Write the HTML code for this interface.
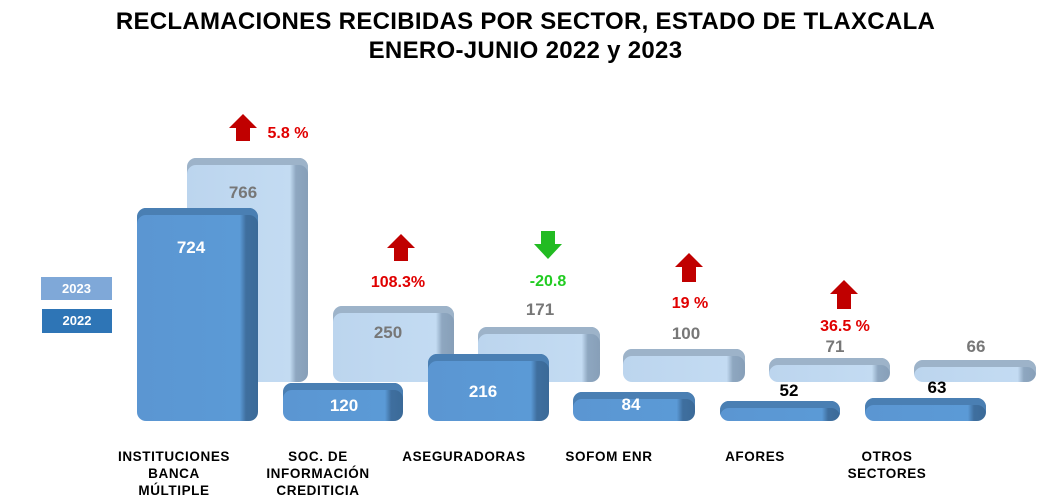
<!DOCTYPE html><html><head><style>
body{margin:0;width:1041px;height:503px;background:#fff;position:relative;overflow:hidden;font-family:"Liberation Sans",Arial,sans-serif}
.t{position:absolute;left:0;width:1051px;text-align:center;font-weight:bold;font-size:24px;color:#000;letter-spacing:.3px}
.b{position:absolute;border-radius:9px;box-sizing:border-box}
.d{background:linear-gradient(90deg,#5b96d2 0%,#5b9ad6 85%,#3f6f9f 90%,#3b6a98 100%);box-shadow:inset 0 7px 0 #4a7fb3}
.l{background:linear-gradient(90deg,#bcd5ee 0%,#c3dbf2 85%,#8ea7c0 90%,#879fb8 100%);box-shadow:inset 0 7px 0 #9db3c9}
.v{position:absolute;font-weight:bold;font-size:17px;text-align:center;width:80px}
.c{position:absolute;font-weight:bold;font-size:13.5px;text-align:center;width:150px;line-height:17px;letter-spacing:.6px}
.p{position:absolute;font-weight:bold;font-size:16px;text-align:center;width:90px}
.ar{position:absolute;width:0;height:0}
</style></head><body>
<div class="t" style="top:8px">RECLAMACIONES RECIBIDAS POR SECTOR, ESTADO DE TLAXCALA</div>
<div class="t" style="top:37px">ENERO-JUNIO 2022 y 2023</div>
<div style="position:absolute;left:41px;top:277px;width:71px;height:23px;background:#7fa8d8;color:#fff;font-weight:bold;font-size:13px;text-align:center;line-height:23px">2023</div>
<div style="position:absolute;left:42px;top:309px;width:70px;height:24px;background:#2e75b6;color:#fff;font-weight:bold;font-size:13px;text-align:center;line-height:24px">2022</div>

<div class="b l" style="left:187px;top:158px;width:121px;height:224px"></div>
<div class="b l" style="left:333px;top:306px;width:121px;height:76px"></div>
<div class="b l" style="left:478px;top:327px;width:122px;height:55px"></div>
<div class="b l" style="left:623px;top:349px;width:122px;height:33px"></div>
<div class="b l" style="left:769px;top:358px;width:121px;height:24px"></div>
<div class="b l" style="left:914px;top:360px;width:122px;height:22px"></div>

<div class="b d" style="left:137px;top:208px;width:121px;height:213px"></div>
<div class="b d" style="left:283px;top:383px;width:120px;height:38px"></div>
<div class="b d" style="left:428px;top:354px;width:121px;height:67px"></div>
<div class="b d" style="left:573px;top:392px;width:122px;height:29px"></div>
<div class="b d" style="left:720px;top:401px;width:120px;height:20px"></div>
<div class="b d" style="left:865px;top:398px;width:121px;height:23px"></div>

<div class="v" style="left:203px;top:183px;color:#777">766</div>
<div class="v" style="left:151px;top:238px;color:#fff">724</div>
<div class="v" style="left:348px;top:323px;color:#777">250</div>
<div class="v" style="left:304px;top:396px;color:#fff">120</div>
<div class="v" style="left:500px;top:300px;color:#777">171</div>
<div class="v" style="left:443px;top:382px;color:#fff">216</div>
<div class="v" style="left:646px;top:324px;color:#777">100</div>
<div class="v" style="left:591px;top:395px;color:#fff">84</div>
<div class="v" style="left:795px;top:337px;color:#777">71</div>
<div class="v" style="left:749px;top:381px;color:#000">52</div>
<div class="v" style="left:936px;top:337px;color:#777">66</div>
<div class="v" style="left:897px;top:378px;color:#000">63</div>

<div class="ar" style="left:229px;top:114px;border-left:14px solid transparent;border-right:14px solid transparent;border-bottom:14px solid #c00000"></div>
<div style="position:absolute;left:236px;top:127px;width:14px;height:14px;background:#c00000"></div>
<div class="p" style="left:243px;top:125px;color:#e00000">5.8 %</div>
<div class="ar" style="left:387px;top:234px;border-left:14px solid transparent;border-right:14px solid transparent;border-bottom:14px solid #c00000"></div>
<div style="position:absolute;left:394px;top:247px;width:14px;height:14px;background:#c00000"></div>
<div class="p" style="left:353px;top:274px;color:#e00000">108.3%</div>
<div style="position:absolute;left:541px;top:231px;width:14px;height:14px;background:#22bb22"></div>
<div class="ar" style="left:534px;top:244px;border-left:14px solid transparent;border-right:14px solid transparent;border-top:15px solid #22bb22"></div>
<div class="p" style="left:503px;top:273px;color:#22cc22">-20.8</div>
<div class="ar" style="left:675px;top:253px;border-left:14px solid transparent;border-right:14px solid transparent;border-bottom:14px solid #c00000"></div>
<div style="position:absolute;left:682px;top:266px;width:14px;height:16px;background:#c00000"></div>
<div class="p" style="left:645px;top:295px;color:#e00000">19 %</div>
<div class="ar" style="left:830px;top:280px;border-left:14px solid transparent;border-right:14px solid transparent;border-bottom:14px solid #c00000"></div>
<div style="position:absolute;left:837px;top:293px;width:14px;height:16px;background:#c00000"></div>
<div class="p" style="left:800px;top:318px;color:#e00000">36.5 %</div>

<div class="c" style="left:99px;top:448px">INSTITUCIONES<br>BANCA<br>MÚLTIPLE</div>
<div class="c" style="left:243px;top:448px">SOC. DE<br>INFORMACIÓN<br>CREDITICIA</div>
<div class="c" style="left:389px;top:448px">ASEGURADORAS</div>
<div class="c" style="left:534px;top:448px">SOFOM ENR</div>
<div class="c" style="left:680px;top:448px">AFORES</div>
<div class="c" style="left:812px;top:448px">OTROS<br>SECTORES</div>
</body></html>
